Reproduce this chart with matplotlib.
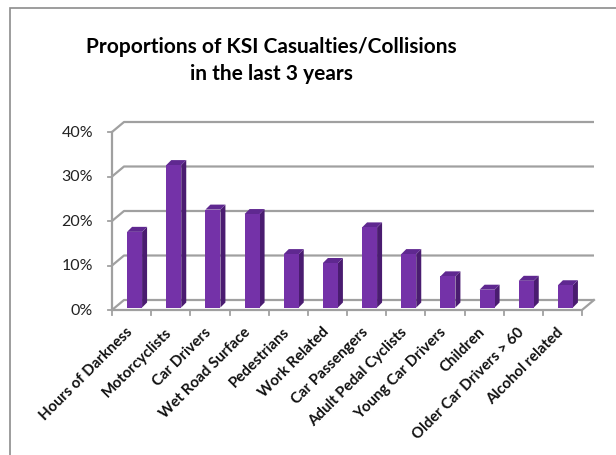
"""Proportions of KSI casualties/collisions - 3D style column chart."""

import matplotlib
matplotlib.use("Agg")
import matplotlib.pyplot as plt
from matplotlib.patches import Polygon, Rectangle

CATEGORIES = [
    "Hours of Darkness", "Motorcyclists", "Car Drivers", "Wet Road Surface",
    "Pedestrians", "Work Related", "Car Passengers", "Adult Pedal Cyclists",
    "Young Car Drivers", "Children", "Older Car Drivers > 60", "Alcohol related",
]
VALUES = [17, 32, 22, 21, 12, 10, 18, 12, 7, 4, 6, 5]  # percent
Y_TICKS = [0, 10, 20, 30, 40]
Y_LABELS = ["0%", "10%", "20%", "30%", "40%"]

TITLE_1 = "Proportions of KSI Casualties/Collisions"
TITLE_2 = "in the last 3 years"

FONT = "Lato"
GRID = "#A0A0A0"
FRONT = "#7432A8"
SIDE = "#4A1C70"
TOP = "#5F2890"

W, H = 616, 456
fig = plt.figure(figsize=(W / 100, H / 100), dpi=100)

# plot frame in pixels (front plane)
X0, X1, Y0, Y1 = 112, 582, 311, 133
ax = fig.add_axes([X0 / W, 1 - Y0 / H, (X1 - X0) / W, (Y0 - Y1) / H])
ax.set_xlim(0, len(CATEGORIES))
ax.set_ylim(0, 40)
ax.axis("off")

px_x = (X1 - X0) / len(CATEGORIES)
px_y = (Y0 - Y1) / 40


def dx(p):
    return p / px_x


def dy(p):
    return p / px_y


# depth of the floor / back wall
BX, BY = dx(12), dy(10)
n = len(CATEGORIES)

# back wall gridlines plus the slanted link to the front axis
for v in Y_TICKS:
    ax.plot([0, BX, n + BX], [v, v + BY, v + BY], color=GRID, lw=1.6,
            clip_on=False, solid_capstyle="butt", zorder=1)
    ax.plot([0, -dx(4)], [v, v], color=GRID, lw=1.3, clip_on=False, zorder=1)

# floor edges
ax.plot([0, n, n + BX], [0, 0, BY], color=GRID, lw=1.6, clip_on=False, zorder=1)
ax.plot([0, 0], [0, 40], color=GRID, lw=1.6, clip_on=False, zorder=1)
for i in range(n + 1):
    ax.plot([i, i], [0, -dy(5)], color=GRID, lw=1.3, clip_on=False, zorder=1)

# bars: front face, side face and top face
half_w = dx(7.5)
fx, fy = dx(3), dy(2.5)      # front face offset into the depth
sx, sy = dx(5), dy(5)        # bar depth
for i, v in enumerate(VALUES):
    cx = i + 0.5 + fx
    l, r = cx - half_w, cx + half_w
    b, t = fy, v + fy
    ax.add_patch(Polygon([(r, b), (r + sx, b + sy), (r + sx, t + sy), (r, t)],
                         closed=True, fc=SIDE, ec="none", zorder=3, clip_on=False))
    ax.add_patch(Polygon([(l, t), (r, t), (r + sx, t + sy), (l + sx, t + sy)],
                         closed=True, fc=TOP, ec="none", zorder=3, clip_on=False))
    ax.add_patch(Polygon([(l, b), (r, b), (r, t), (l, t)],
                         closed=True, fc=FRONT, ec="none", zorder=4, clip_on=False))

# axis labels
for v, lab in zip(Y_TICKS, Y_LABELS):
    ax.text(-dx(19), v, lab, ha="right", va="center", fontsize=11.5,
            family=FONT, color="#222222", clip_on=False)
for i, lab in enumerate(CATEGORIES):
    ax.text(i + 0.5 - dx(6), -dy(14), lab, rotation=45, rotation_mode="anchor",
            ha="right", va="top", fontsize=10.8, fontweight="bold",
            family=FONT, color="#111111", clip_on=False)

fig.text(271 / W, 1 - 47 / H, TITLE_1, ha="center", va="center",
         fontsize=15, fontweight="bold", family=FONT)
fig.text(271 / W, 1 - 74 / H, TITLE_2, ha="center", va="center",
         fontsize=15, fontweight="bold", family=FONT)

# chart border (right and bottom edges run off the canvas)
fig.patches.append(Rectangle((10 / W, -0.05), 1.05, 1 - 9 / H + 0.05,
                             transform=fig.transFigure, fc="none",
                             ec="#8C8C8C", lw=1.2))

fig.savefig("out.png", dpi=100)
